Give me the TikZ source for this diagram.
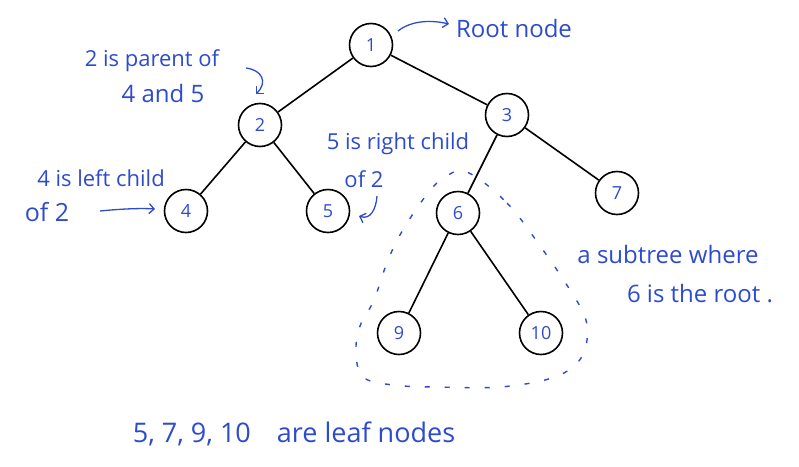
\documentclass[tikz,border=0pt]{standalone}
\usepackage{fontspec}
\setmainfont{Open Sans}
\usetikzlibrary{arrows.meta}
\definecolor{ink}{RGB}{45,75,205}
\begin{document}
\begin{tikzpicture}[x=1pt,y=-1pt,
  tnode/.style={circle,draw=black,line width=1.6pt,minimum size=43pt,inner sep=0pt,text=ink,font=\fontsize{18}{18}\selectfont},
  edge/.style={draw=black,line width=1.6pt},
  note/.style={text=ink,font=\fontsize{22}{24}\selectfont,inner sep=0pt,align=center},
  pointer/.style={draw=ink,line width=1.3pt,-{Straight Barb[length=5pt,width=10pt]}},
  hull/.style={draw=ink,line width=1.4pt,dash pattern=on 5pt off 15pt}]
\useasboundingbox (0,0) rectangle (799,466);
\node[tnode] (n1) at (371,45) {1};
\node[tnode] (n2) at (260,125) {2};
\node[tnode] (n3) at (507,115) {3};
\node[tnode] (n4) at (186,211) {4};
\node[tnode] (n5) at (328,211) {5};
\node[tnode] (n6) at (458,213) {6};
\node[tnode] (n7) at (617,193) {7};
\node[tnode] (n9) at (399,333) {9};
\node[tnode] (n10) at (541,333) {10};
\draw[edge] (n1) -- (n2);
\draw[edge] (n1) -- (n3);
\draw[edge] (n2) -- (n4);
\draw[edge] (n2) -- (n5);
\draw[edge] (n3) -- (n6);
\draw[edge] (n3) -- (n7);
\draw[edge] (n6) -- (n9);
\draw[edge] (n6) -- (n10);
% notes
\node[note,font=\fontsize{24}{24}\selectfont] (troot) at (514,28) {Root node};
\node[note] (tpar) at (152,61) {2 is parent of};
\node[note,font=\fontsize{24}{24}\selectfont] (tpar2) at (163,93) {4 and 5};
\node[note] (tleft) at (101,178) {4 is left child};
\node[note,font=\fontsize{25}{25}\selectfont] (tleft2) at (47,212) {of 2};
\node[note] (tright) at (398,144) {5 is right child};
\node[note] (tright2) at (364,179) {of 2};
\node[note,font=\fontsize{24}{24}\selectfont] (tsub) at (668,254) {a subtree where};
\node[note,font=\fontsize{24}{24}\selectfont] (tsub2) at (700,294) {6 is the root .};
\node[note,font=\fontsize{27}{27}\selectfont] (tleaf) at (294,434) {5, 7, 9, 10\hspace{26pt}are leaf nodes};
% pointers
\coordinate (r0) at (398,31);
\coordinate (r1) at (449,24);
\draw[pointer] (r0) .. controls (412,20) and (432,20) .. (r1);
\coordinate (p0) at (246,68);
\coordinate (p1) at (256,94);
\draw[pointer] (p0) .. controls (262,70) and (268,82) .. (p1);
\coordinate (l0) at (100,211);
\coordinate (l1) at (155,209);
\draw[pointer] (l0) .. controls (120,209) and (140,208) .. (l1);
\coordinate (q0) at (377,196);
\coordinate (q1) at (359,216);
\draw[pointer] (q0) .. controls (376,210) and (370,220) .. (q1);
% subtree hull
\draw[hull] plot[smooth cycle,tension=0.6] coordinates {
 (467,172) (507,203) (543,250) (570,290) (585,317) (587,340) (578,362)
 (552,378) (500,387) (437,387) (393,385) (363,377) (356,352) (360,326)
 (374,300) (388,260) (404,228) (428,193) (445,177)};
\end{tikzpicture}
\end{document}
